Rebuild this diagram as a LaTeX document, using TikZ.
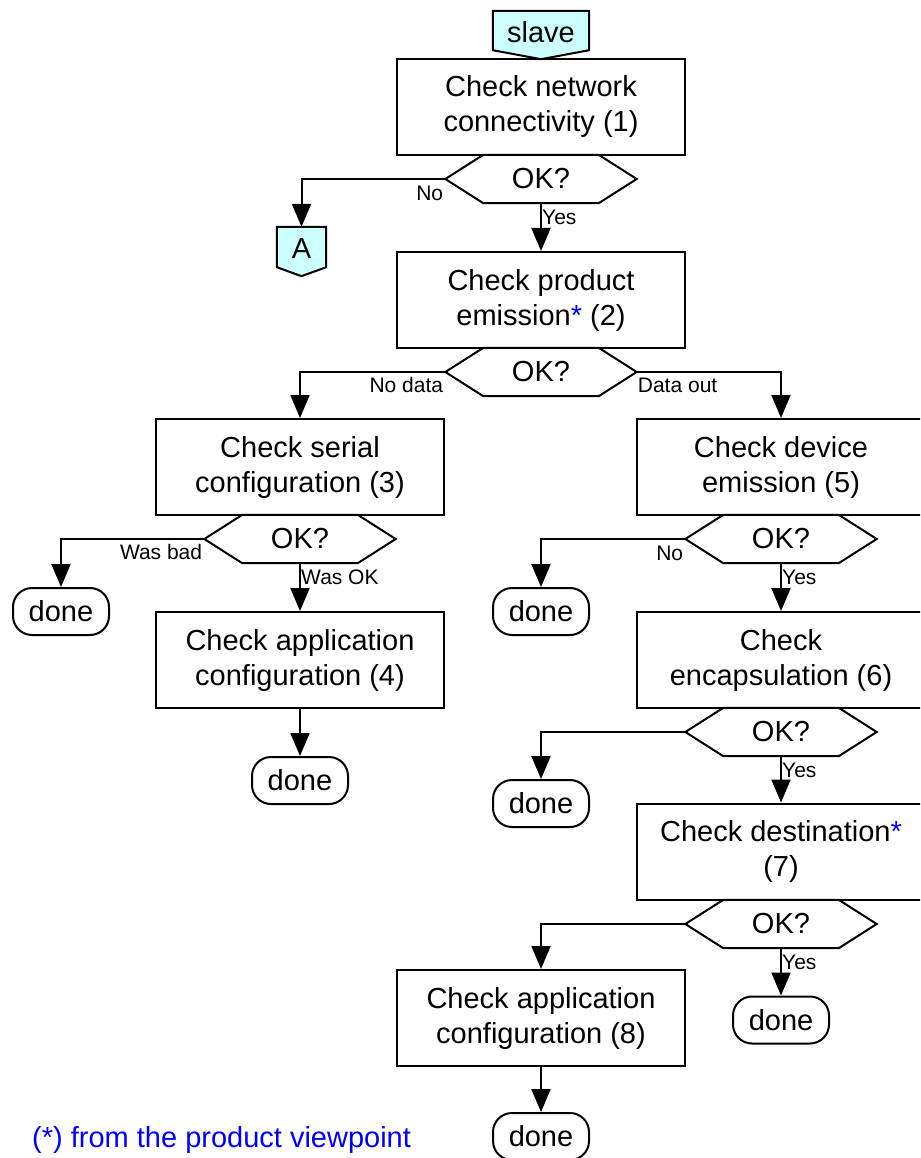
\documentclass[tikz,border=0pt]{standalone}
\usepackage{fontspec}
\setmainfont{Liberation Sans}
\usetikzlibrary{arrows.meta,backgrounds}
\definecolor{conncyan}{HTML}{CCFFFF}
\definecolor{noteblue}{HTML}{0000FF}
\newcommand{\mybig}{\fontsize{29}{35}\selectfont}
\newcommand{\mysmall}{\fontsize{21}{24}\selectfont}
\newcommand{\hexpath}[1]{\draw[lw] (#1.west) -- ([xshift=38]#1.north west) -- ([xshift=-38]#1.north east) -- (#1.east) -- ([xshift=-38]#1.south east) -- ([xshift=38]#1.south west) -- cycle;}
\newcommand{\offpage}[1]{\filldraw[lw,fill=conncyan] (#1.north west) -- (#1.north east) -- ([yshift=9]#1.south east) -- (#1.south) -- ([yshift=9]#1.south west) -- cycle;}
\newcommand{\blueast}{\textcolor{noteblue}{*}}
\tikzset{
  lw/.style={line width=2pt, draw=black},
  stepbox/.style={lw, rectangle, minimum width=288, minimum height=96, inner sep=0pt, align=center, font=\mybig},
  hexnode/.style={rectangle, minimum width=191, minimum height=48, inner sep=0pt, font=\mybig},
  termnode/.style={lw, rectangle, rounded corners=19pt, minimum width=96, minimum height=47, inner sep=0pt, font=\mybig},
  connnode/.style={rectangle, inner sep=0pt, font=\mybig},
  lbl/.style={inner sep=0pt, font=\mysmall},
  arr/.style={lw, -{Triangle[length=23pt,width=19pt]}},
}
\begin{document}
\begin{tikzpicture}[x=1pt,y=-1pt]
\clip (0,0) rectangle (920,1158);
% start connector
\node[connnode, minimum width=96, minimum height=48] (slave) at (541,35) {\raisebox{6pt}{slave}};
\node[stepbox] (b1) at (541,107) {Check network\\connectivity (1)};
\node[hexnode] (h1) at (541,179) {OK?};
\node[connnode, minimum width=49, minimum height=49] (A) at (301.5,251.5) {\raisebox{5pt}{A}};
\node[stepbox] (b2) at (541,300) {Check product\\emission\blueast{} (2)};
\node[hexnode] (h2) at (541,372) {OK?};
% left column
\node[stepbox] (b3) at (300,467) {Check serial\\configuration (3)};
\node[hexnode] (h3) at (300,539) {OK?};
\node[termnode] (d1) at (61,611.5) {done};
\node[stepbox] (b4) at (300,660) {Check application\\configuration (4)};
\node[termnode] (d2) at (300,780.5) {done};
% right column
\node[stepbox] (b5) at (781,467) {Check device\\emission (5)};
\node[hexnode] (h5) at (781,539) {OK?};
\node[termnode] (d3) at (541,611.5) {done};
\node[stepbox] (b6) at (781,660) {Check\\encapsulation (6)};
\node[hexnode] (h6) at (781,732) {OK?};
\node[termnode] (d4) at (541,803.5) {done};
\node[stepbox] (b7) at (781,851.5) {Check destination\blueast\\(7)};
\node[hexnode] (h7) at (781,924) {OK?};
\node[stepbox] (b8) at (541,1018) {Check application\\configuration (8)};
\node[termnode] (d5) at (781,1020) {done};
\node[termnode] (d6) at (541,1136.5) {done};
% footnote
\node[inner sep=0pt, anchor=west, font=\mybig, text=noteblue] (note) at (32,1140) {(*) from the product viewpoint};
% shapes
\begin{scope}[on background layer]
\offpage{slave}
\offpage{A}
\end{scope}
\hexpath{h1}
\hexpath{h2}
\hexpath{h3}
\hexpath{h5}
\hexpath{h6}
\hexpath{h7}
% connectors
\draw[arr] (h1.south) -- (b2.north);
\draw[arr] (h1.west) -| (A.north);
\draw[arr] (h2.west) -| (b3.north);
\draw[arr] (h2.east) -| (b5.north);
\draw[arr] (h3.west) -| (d1.north);
\draw[arr] (h3.south) -- (b4.north);
\draw[arr] (b4.south) -- (d2.north);
\draw[arr] (h5.west) -| (d3.north);
\draw[arr] (h5.south) -- (b6.north);
\draw[arr] (h6.west) -| (d4.north);
\draw[arr] (h6.south) -- (b7.north);
\draw[arr] (h7.west) -| (b8.north);
\draw[arr] (h7.south) -- (d5.north);
\draw[arr] (b8.south) -- (d6.north);
% labels
\node[lbl, anchor=east] (l1) at ([xshift=-2,yshift=-14]h1.west) {No};
\node[lbl, anchor=west] (l2) at ([xshift=1,yshift=-14]h1.south) {Yes};
\node[lbl, anchor=east] (l3) at ([xshift=-2,yshift=-13]h2.west) {No data};
\node[lbl, anchor=west] (l4) at ([xshift=1,yshift=-13]h2.east) {Data out};
\node[lbl, anchor=east] (l5) at ([xshift=-2,yshift=-13]h3.west) {Was bad};
\node[lbl, anchor=west] (l6) at ([xshift=1,yshift=-14]h3.south) {Was OK};
\node[lbl, anchor=east] (l7) at ([xshift=-2,yshift=-14]h5.west) {No};
\node[lbl, anchor=west] (l8) at ([xshift=1,yshift=-14]h5.south) {Yes};
\node[lbl, anchor=west] (l9) at ([xshift=1,yshift=-14]h6.south) {Yes};
\node[lbl, anchor=west] (l10) at ([xshift=1,yshift=-14]h7.south) {Yes};
\end{tikzpicture}
\end{document}
